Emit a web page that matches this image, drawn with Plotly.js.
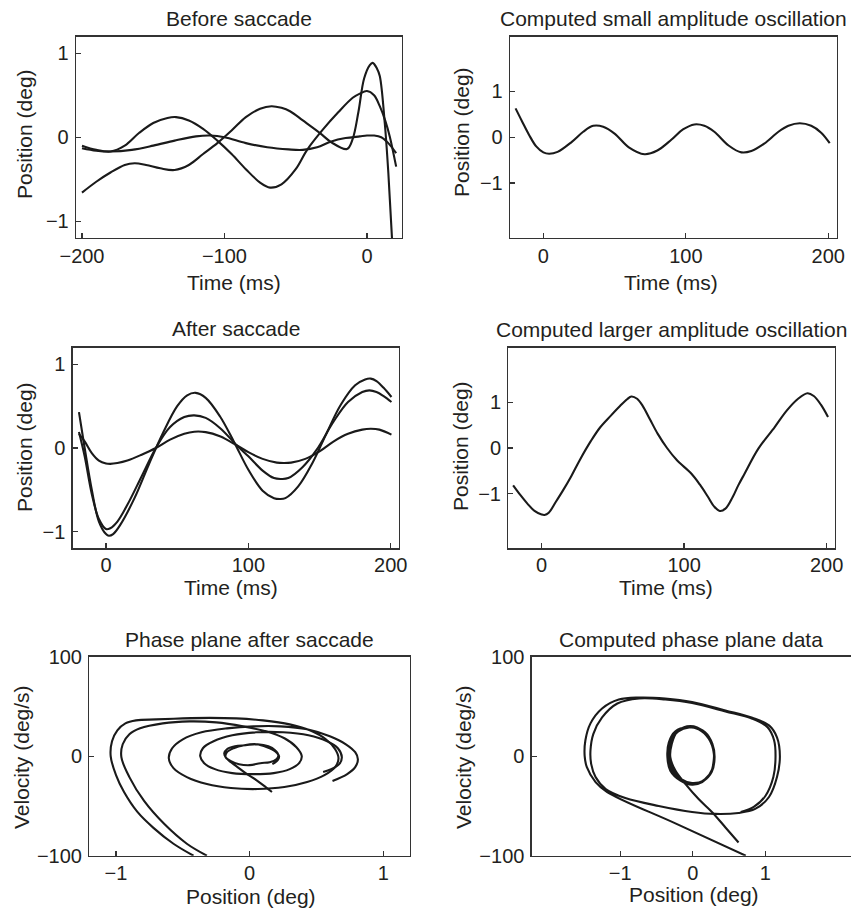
<!DOCTYPE html>
<html>
<head>
<meta charset="utf-8">
<script src="https://cdn.plot.ly/plotly-3.0.1.min.js"></script>
<style>html,body{margin:0;padding:0;background:#fff;}#chart{width:851px;height:912px;}</style>
</head>
<body>
<div id="chart"></div>
<script>
// ---------------- DATA ----------------
// Panel 1: Before saccade (time ms, position deg)
const beforeA_t = [-200,-190,-180,-165,-150,-135,-120,-110,-100,-85,-70,-55,-45,-35,-25,-15,-5,0,5,10,15,20.5];
const beforeA_pos = [-0.13,-0.16,-0.17,-0.15,-0.1,-0.04,0.01,0.02,0.0,-0.07,-0.12,-0.145,-0.15,-0.12,-0.05,-0.01,0.01,0.02,0.02,0.0,-0.07,-0.19];
const beforeB_t = [-200,-190,-180,-170,-160,-150,-140,-134,-125,-115,-105,-95,-85,-75,-68,-60,-50,-42,-31,-20,-10,-5,0,5,9,13,16,20.5];
const beforeB_pos = [-0.1,-0.15,-0.17,-0.1,0.05,0.17,0.23,0.24,0.2,0.1,-0.04,-0.2,-0.38,-0.54,-0.6,-0.56,-0.38,-0.15,0.09,0.3,0.47,0.52,0.55,0.5,0.37,0.19,0.01,-0.35];
const beforeC_t = [-200,-190,-180,-170,-163,-155,-145,-135,-125,-115,-105,-95,-85,-75,-67,-60,-54,-45,-33,-25,-14,-10,-6,-2,2,4,7,9,12.5,15,17.5,19];
const beforeC_pos = [-0.66,-0.53,-0.42,-0.33,-0.31,-0.33,-0.37,-0.39,-0.33,-0.2,-0.07,0.08,0.24,0.34,0.37,0.35,0.31,0.2,0.05,-0.06,-0.14,-0.02,0.3,0.7,0.86,0.886,0.82,0.73,0.17,-0.42,-1.18,-1.5];

// Panel 2: Computed small amplitude oscillation
const smallOsc_t = [-19.5,-15,-10,-5,0,4,10,20,28,35,42,50,60,71,80,90,98,106,113,120,130,139,146,155,165,172,180,188,195,201];
const smallOsc_pos = [0.63,0.35,0.05,-0.2,-0.33,-0.36,-0.32,-0.1,0.12,0.25,0.23,0.08,-0.22,-0.37,-0.29,-0.05,0.17,0.28,0.25,0.12,-0.18,-0.33,-0.3,-0.14,0.12,0.25,0.305,0.25,0.1,-0.13];

// Panel 3: After saccade (three recordings)
const afterL_t = [-19,-15,-10,-5,0,2,5,10,20,30,40,50,57,63,70,80,90,100,110,118,122,126,135,145,155,165,175,182,186,190,195,200.5];
const afterL_pos = [0.43,0.0,-0.5,-0.88,-1.03,-1.05,-1.03,-0.92,-0.6,-0.2,0.18,0.5,0.63,0.66,0.6,0.38,0.07,-0.26,-0.51,-0.6,-0.61,-0.6,-0.46,-0.18,0.18,0.52,0.75,0.82,0.83,0.8,0.72,0.61];
const afterM_t = [-19,-15,-10,-5,0,3,8,15,25,35,45,55,62,70,80,92,100,110,118,123,128,138,148,160,170,180,185,190,195,200.5];
const afterM_pos = [0.19,-0.1,-0.55,-0.85,-0.97,-0.96,-0.88,-0.68,-0.34,0.0,0.25,0.37,0.39,0.36,0.24,0.03,-0.1,-0.27,-0.36,-0.37,-0.36,-0.23,-0.02,0.32,0.55,0.67,0.69,0.67,0.62,0.55];
const afterS_t = [-19,-15,-10,-5,0,3,8,15,25,35,45,55,62,70,80,92,100,110,120,125,130,140,150,160,170,180,186,192,200.5];
const afterS_pos = [0.17,0.08,-0.06,-0.15,-0.185,-0.19,-0.18,-0.15,-0.08,0.0,0.1,0.17,0.195,0.19,0.14,0.03,-0.05,-0.13,-0.175,-0.18,-0.175,-0.13,-0.04,0.08,0.17,0.22,0.23,0.22,0.16];

// Panel 4: Computed larger amplitude oscillation
const largeOsc_t = [-20,-15,-10,-5,0,2,5,10,15,20.4,27,34.5,41,48.6,55,60,63,67,71,76,81.5,88,95,105,111,116.7,121,125,129,134,138,142.5,152,163.6,172,180,186.6,191,196,201];
const largeOsc_pos = [-0.82,-1.03,-1.22,-1.38,-1.46,-1.47,-1.42,-1.18,-0.93,-0.64,-0.25,0.15,0.45,0.71,0.92,1.07,1.13,1.08,0.92,0.63,0.31,0.0,-0.27,-0.56,-0.8,-1.07,-1.28,-1.38,-1.33,-1.08,-0.82,-0.56,-0.02,0.46,0.82,1.08,1.2,1.14,0.95,0.68];

// Panel 5: Phase plane after saccade (position deg, velocity deg/s)
const phaseL_pos = [-0.42,-0.57,-0.72,-0.84,-0.94,-1.0,-1.04,-1.03,-0.99,-0.93,-0.85,-0.7,-0.5,-0.3,-0.1,0.1,0.3,0.45,0.57,0.64,0.665,0.64,0.56,0.43,0.26,0.06,-0.14,-0.32,-0.47,-0.57,-0.605,-0.58,-0.5,-0.36,-0.17,0.03,0.23,0.43,0.6,0.72,0.79,0.81,0.79,0.73,0.62];
const phaseL_vel = [-100,-88,-72,-56,-36,-19,0,15,26,33,36,37,38,38.5,38,36,32,26,17,7,-2,-11,-19,-26,-31,-33,-32,-28,-21,-12,-2,8,17,24,28,30,30,27,20,12,4,-3,-11,-18,-25];
const phaseM_pos = [-0.32,-0.47,-0.64,-0.79,-0.9,-0.96,-0.95,-0.9,-0.82,-0.65,-0.45,-0.25,-0.05,0.12,0.26,0.35,0.39,0.37,0.3,0.18,0.03,-0.13,-0.26,-0.34,-0.37,-0.35,-0.27,-0.13,0.05,0.25,0.44,0.58,0.66,0.69,0.67,0.61,0.55];
const phaseM_vel = [-100,-88,-68,-45,-21,-1,12,22,28,33,35,34,30,25,18,9,0,-7,-13,-17,-18,-17,-13,-7,0,8,15,21,24,24,21,15,8,-1,-8,-13,-16];
const phaseS_pos = [0.167,0.12,0.05,-0.03,-0.1,-0.15,-0.18,-0.19,-0.17,-0.11,-0.03,0.06,0.14,0.19,0.215,0.2,0.15,0.08,0.0,-0.08,-0.14,-0.18,-0.17,-0.12,-0.04,0.05,0.13,0.19,0.22,0.21,0.17];
const phaseS_vel = [-36,-31,-24,-17,-10,-5,-1,3,7,10,11,12,10,6,1,-3,-6,-7,-9,-8,-5,-1,4,8,11,12,9,5,0,-4,-8];

// Panel 6: Computed phase plane data
const compBig_pos = [0.73,-0.24,-1.18,-1.34,-1.46,-1.49,-1.48,-1.41,-1.25,-1.02,-0.74,-0.38,-0.01,0.45,0.82,1.05,1.16,1.2,1.16,1.05,0.86,0.63,0.31,-0.01,-0.47,-0.93,-1.2,-1.34,-1.4,-1.41,-1.37,-1.25,-1.04,-0.74,-0.38,-0.01,0.45,0.82,1.03,1.12,1.14,1.11,1.0,0.84,0.66];
const compBig_vel = [-100,-67.5,-36,-26,-11,0,16,33,48,57,59,58,54.5,46,38.7,31,19,0,-21,-41,-53,-57,-58,-56,-50,-42,-33,-21,-8,6,22.5,39,53,58,57,53.5,45,37.6,29,16,0,-21,-40,-51,-56];
const compSmall_pos = [0.63,0.45,0.27,0.08,-0.1,-0.24,-0.31,-0.29,-0.22,-0.08,0.06,0.2,0.28,0.29,0.24,0.13,-0.01,-0.17,-0.31,-0.35,-0.33,-0.24,-0.08,0.08,0.22,0.29,0.27,0.17,0.01,-0.15,-0.28,-0.33,-0.29,-0.15,0.01,0.17,0.27,0.3,0.26,0.15,-0.01,-0.16,-0.29,-0.34,-0.31,-0.2,-0.05,0.1,0.23,0.29];
const compSmall_vel = [-86.7,-71.6,-56.5,-43,-28,-14.5,-1,12.4,24,30,29,21,9,-2.7,-18,-26,-28.6,-24.5,-14.5,-1,14,25,29,27,17.5,2.4,-12.8,-23,-28,-24.5,-12.8,2.4,17.5,27.5,29,24,12.4,-1,-16,-24.5,-27,-23,-13,0,14,25,29,27,18,3];

// Text
const panelTitles = ["Before saccade","Computed small amplitude oscillation","After saccade","Computed larger amplitude oscillation","Phase plane after saccade","Computed phase plane data"];
const xTitles = ["Time (ms)","Time (ms)","Time (ms)","Time (ms)","Position (deg)","Position (deg)"];
const yTitles = ["Position (deg)","Position (deg)","Position (deg)","Position (deg)","Velocity (deg/s)","Velocity (deg/s)"];
const xTickVals = [[-200,-100,0],[0,100,200],[0,100,200],[0,100,200],[-1,0,1],[-1,0,1]];
const yTickVals = [[-1,0,1],[-1,0,1],[-1,0,1],[-1,0,1],[-100,0,100],[-100,0,100]];

// ---------------- LAYOUT ----------------
const W = 851, H = 912;
const FONT = "Liberation Sans, Arial, Helvetica, sans-serif";
const INK = "#231f20";
// plot boxes in pixels: [left, right, top, bottom]
const boxes = [
  [76, 402, 36.5, 238],
  [510, 836.7, 36.5, 238],
  [72.7, 399, 347.7, 548.3],
  [508.3, 835, 347.7, 548.3],
  [89.3, 410, 656.7, 855.7],
  [531.7, 851, 656.7, 855.7]
];
const xRanges = [[-204.2, 24.6],[-23.4, 205.9],[-23.4, 205.8],[-23.4, 205.9],[-1.2, 1.2],[-2.22, 2.18]];
const yRanges = [[-1.2, 1.2],[-2.2, 2.2],[-1.2, 1.2],[-2.2, 2.2],[-100, 100],[-100, 100]];
const rightBorder = [true, true, true, true, true, false];
const xLabelStandoff = [0, 0, -2, -2, -1, -1];
const titleY = [18, 18, 328, 329, 639, 639];
const xTitlePos = [[234, 282],[671, 282],[231, 587],[666, 587],[251, 896],[694, 894]];
const yTitlePos = [[25, 134],[461, 132],[25, 447],[460, 446],[21, 757],[463, 757]];

const layout = {
  width: W, height: H,
  margin: {l:0, r:0, t:0, b:0},
  paper_bgcolor: "#fff", plot_bgcolor: "#fff",
  showlegend: false,
  font: {family: FONT, color: INK, size: 20},
  annotations: []
};

function minusFmt(v){ return v < 0 ? "\u2212" + Math.abs(v) : String(v); }

boxes.forEach((b, i) => {
  const n = i === 0 ? "" : String(i + 1);
  const common = {
    showline: true, linecolor: "#333", linewidth: 1.3,
    ticks: "inside", ticklen: 5, tickwidth: 1.3, tickcolor: "#333",
    showgrid: false, zeroline: false, fixedrange: true,
    tickfont: {family: FONT, size: 20, color: INK},
    tickmode: "array"
  };
  layout["xaxis" + n] = Object.assign({}, common, {
    mirror: true,
    domain: [b[0] / W, b[1] / W],
    range: xRanges[i],
    tickvals: xTickVals[i], ticktext: xTickVals[i].map(minusFmt),
    anchor: "y" + n, ticklabelstandoff: xLabelStandoff[i]
  });
  layout["yaxis" + n] = Object.assign({}, common, {
    mirror: rightBorder[i],
    domain: [1 - b[3] / H, 1 - b[2] / H],
    range: yRanges[i],
    tickvals: yTickVals[i], ticktext: yTickVals[i].map(minusFmt),
    anchor: "x" + n, ticklabelstandoff: 2
  });
  layout.annotations.push({
    text: panelTitles[i], xref: "paper", yref: "paper",
    x: ((b[0] + b[1]) / 2) / W, y: 1 - titleY[i] / H,
    xanchor: "center", yanchor: "middle", showarrow: false,
    font: {family: FONT, size: 21, color: INK}
  });
  layout.annotations.push({
    text: xTitles[i], xref: "paper", yref: "paper",
    x: xTitlePos[i][0] / W, y: 1 - xTitlePos[i][1] / H,
    xanchor: "center", yanchor: "middle", showarrow: false,
    font: {family: FONT, size: 21, color: INK}
  });
  layout.annotations.push({
    text: yTitles[i], xref: "paper", yref: "paper",
    x: yTitlePos[i][0] / W, y: 1 - yTitlePos[i][1] / H,
    xanchor: "center", yanchor: "middle", showarrow: false, textangle: -90,
    font: {family: FONT, size: 21, color: INK}
  });
});

function line(x, y, panel) {
  const n = panel === 1 ? "" : String(panel);
  return {
    type: "scatter", mode: "lines", x: x, y: y,
    xaxis: "x" + n, yaxis: "y" + n,
    line: {color: "#1a1a1a", width: 2.1, shape: "spline", smoothing: 1},
    hoverinfo: "skip", showlegend: false
  };
}

const traces = [
  line(beforeA_t, beforeA_pos, 1),
  line(beforeB_t, beforeB_pos, 1),
  line(beforeC_t, beforeC_pos, 1),
  line(smallOsc_t, smallOsc_pos, 2),
  line(afterL_t, afterL_pos, 3),
  line(afterM_t, afterM_pos, 3),
  line(afterS_t, afterS_pos, 3),
  line(largeOsc_t, largeOsc_pos, 4),
  line(phaseL_pos, phaseL_vel, 5),
  line(phaseM_pos, phaseM_vel, 5),
  line(phaseS_pos, phaseS_vel, 5),
  line(compBig_pos, compBig_vel, 6),
  line(compSmall_pos, compSmall_vel, 6)
];

Plotly.newPlot("chart", traces, layout, {staticPlot: true, displayModeBar: false});
</script>
</body>
</html>
